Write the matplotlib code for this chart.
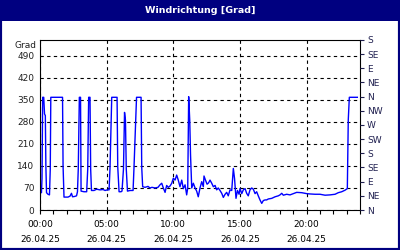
import matplotlib
matplotlib.use("Agg")
import matplotlib.pyplot as plt
from matplotlib.patches import Rectangle

title = "Windrichtung [Grad]"
hours = [0.04, 0.11, 0.15, 0.20, 0.28, 0.34, 0.40, 0.44, 0.49, 0.60, 0.71, 0.77, 0.81,
         1.69, 1.73, 1.80, 2.10, 2.25, 2.36, 2.44, 2.59, 2.74, 2.81, 2.87, 2.95, 3.04,
         3.08, 3.30, 3.50, 3.58, 3.65, 3.75, 3.80, 3.86, 4.05, 4.25, 4.50, 4.73, 4.88,
         5.06, 5.18, 5.25, 5.38, 5.78, 5.83, 5.93, 6.08, 6.15, 6.26, 6.34, 6.41, 6.47,
         6.56, 6.75, 6.98, 7.05, 7.24, 7.58, 7.63, 7.70, 7.88, 8.10, 8.25, 8.40, 8.63,
         8.85, 9.00, 9.13, 9.25, 9.38, 9.50, 9.62, 9.75, 9.88, 10.00, 10.13, 10.25,
         10.37, 10.50, 10.63, 10.75, 10.88, 11.00, 11.08, 11.15, 11.23, 11.29, 11.38,
         11.50, 11.63, 11.75, 11.87, 12.00, 12.13, 12.25, 12.30, 12.41, 12.53, 12.64,
         12.75, 12.88, 13.00, 13.13, 13.25, 13.37, 13.50, 13.63, 13.75, 13.88, 14.00,
         14.12, 14.25, 14.38, 14.50, 14.59, 14.70, 14.81, 14.93, 15.00, 15.13, 15.25,
         15.38, 15.50, 15.62, 15.75, 15.88, 16.00, 16.13, 16.25, 16.37, 16.50, 16.63,
         16.75, 16.88, 17.00, 17.12, 17.38, 17.63, 17.87, 18.00, 18.13, 18.25, 18.50,
         18.75, 19.00, 19.25, 19.63, 20.00, 20.25, 20.63, 21.00, 21.38, 21.75, 22.13,
         22.37, 22.63, 22.88, 23.05, 23.12, 23.20, 23.80]
direction = [55, 55, 100, 358, 358, 305, 300, 140, 55, 50, 48, 130, 358,
             358, 140, 41, 41, 44, 53, 42, 43, 45, 58, 130, 358, 358,
             60, 58, 58, 130, 358, 358, 130, 62, 62, 66, 64, 65, 62,
             64, 64, 132, 358, 358, 138, 58, 58, 60, 130, 310, 285, 130,
             60, 62, 62, 135, 358, 358, 135, 74, 72, 75, 70, 72, 70,
             72, 80, 85, 70, 56, 78, 72, 76, 85, 101, 95, 111,
             95, 74, 95, 68, 80, 48, 70, 360, 286, 175, 70,
             85, 70, 60, 42, 70, 90, 74, 108, 95, 82, 86,
             95, 85, 74, 78, 64, 70, 62, 53, 40, 50, 56,
             45, 64, 62, 132, 100, 37, 62, 50, 68, 52, 64,
             68, 53, 45, 64, 70, 66, 52, 58, 45, 32, 21,
             30, 32, 32, 35, 37, 42, 45, 48, 53, 47, 50,
             48, 52, 56, 55, 52, 51, 50, 50, 47, 48, 50,
             55, 58, 63, 68, 286, 358, 358]

left_ticks = [0, 70, 140, 210, 280, 350, 420, 490]
right_ticks = [0, 45, 90, 135, 180, 225, 270, 315, 360, 405, 450, 495, 540]
right_labels = ["N", "NE", "E", "SE", "S", "SW", "W", "NW", "N", "NE", "E", "SE", "S"]
x_ticks = [0, 5, 10, 15, 20]
x_labels = ["00:00\n26.04.25", "05:00\n26.04.25", "10:00\n26.04.25",
            "15:00\n26.04.25", "20:00\n26.04.25"]

navy = "#000080"
fig = plt.figure(figsize=(4, 2.5), dpi=100)
fig.patch.set_facecolor("white")

# frame and title bar
fig.add_artist(Rectangle((0, 0), 1, 1, transform=fig.transFigure, fill=False,
                         edgecolor=navy, linewidth=3))
fig.add_artist(Rectangle((0, 1 - 21 / 250), 1, 21 / 250, transform=fig.transFigure,
                         facecolor=navy, edgecolor="none"))
fig.text(0.5, 1 - 10.5 / 250, title, color="white", ha="center", va="center",
         fontsize=6.8, fontweight="bold")

ax = fig.add_axes([40 / 400, 40 / 250, 320 / 400, 170 / 250])
ax.plot(hours, direction, color="#0000ff", linewidth=1.0)
ax.set_xlim(0, 24)
ax.set_ylim(0, 540)
ax.set_yticks(left_ticks)
ax.set_yticklabels([str(t) for t in left_ticks])
ax.set_xticks(x_ticks)
ax.set_xticklabels(x_labels, linespacing=1.9)
ax.set_xticks(range(0, 25), minor=True)
ax.tick_params(axis="y", length=0, pad=4, labelsize=6.5, colors="#202020")
ax.tick_params(axis="x", which="both", length=3, width=0.8, direction="out",
               pad=4, labelsize=6.5, colors="black")
ax.grid(True, which="major", color="black", linestyle=(0, (3, 3)), linewidth=0.8)
for s in ax.spines.values():
    s.set_linewidth(0.8)
    s.set_color("black")
ax.text(-0.01, 0.97, "Grad", transform=ax.transAxes, ha="right", va="center",
        fontsize=6.5, color="#202020")

ax2 = ax.twinx()
ax2.set_ylim(0, 540)
ax2.set_yticks(right_ticks)
ax2.set_yticklabels(right_labels)
ax2.tick_params(axis="y", length=3, width=0.8, pad=2, labelsize=6.5, colors="#202050")
for s in ax2.spines.values():
    s.set_visible(False)

fig.savefig("out.png", dpi=100)
